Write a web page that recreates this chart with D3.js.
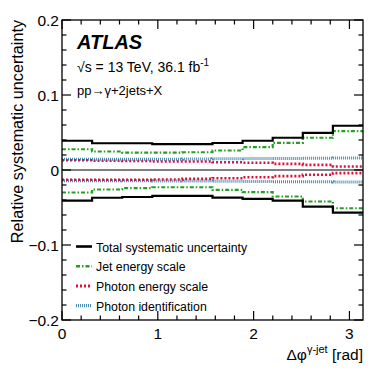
<!DOCTYPE html>
<html><head><meta charset="utf-8">
<script src="https://cdn.jsdelivr.net/npm/d3@7"></script>
<style>body{margin:0;background:#fff}svg{display:block}text{font-family:"Liberation Sans",Arial,sans-serif}</style>
</head><body><div id="c"></div>
<script>
const binEdges = [0, 0.1, 0.2, 0.3, 0.4, 0.5, 0.6, 0.7, 0.8, 0.9, 1.0]; // in units of pi
const totalUp   = [0.039, 0.0357, 0.0357, 0.0344, 0.0344, 0.036, 0.039, 0.043, 0.0496, 0.059];
const totalDown = [-0.0407, -0.037, -0.036, -0.0344, -0.0344, -0.0367, -0.0385, -0.0407, -0.0487, -0.0567];
const jesUp     = [0.0277, 0.0247, 0.0233, 0.0233, 0.0237, 0.026, 0.0304, 0.0362, 0.043, 0.0518];
const jesDown   = [-0.030, -0.026, -0.0242, -0.023, -0.023, -0.0264, -0.0296, -0.0353, -0.042, -0.051];
const pesUp     = [0.013, 0.0124, 0.012, 0.0113, 0.0113, 0.0104, 0.0096, 0.0082, 0.0069, 0.0047];
const pesDown   = [-0.013, -0.013, -0.013, -0.0127, -0.0118, -0.0109, -0.0096, -0.0082, -0.0064, -0.0042];
const pidUp     = [0.0145, 0.0145, 0.0145, 0.0145, 0.0147, 0.015, 0.0152, 0.0155, 0.0157, 0.016];
const pidDown   = [-0.0142, -0.0142, -0.0143, -0.0145, -0.0147, -0.015, -0.0152, -0.0155, -0.0157, -0.016];
const legendLabels = ["Total systematic uncertainty", "Jet energy scale", "Photon energy scale", "Photon identification"];
const xTicks = [0, 1, 2, 3];
const yTicks = [-0.2, -0.1, 0, 0.1, 0.2];

const W = 382, H = 382;
const m = {l: 62, r: 19, t: 20, b: 62};
const svg = d3.select("#c").append("svg").attr("width", W).attr("height", H);
const x = d3.scaleLinear().domain([0, Math.PI]).range([m.l, W - m.r]);
const y = d3.scaleLinear().domain([-0.2, 0.2]).range([H - m.b, m.t]);

const styles = [
  {color: "#000", w: 2.2, dash: null},
  {color: "#22a022", w: 2.2, dash: "4,2,1.5,2"},
  {color: "#e0103c", w: 2.6, dash: "2,2"},
  {color: "#4a8db5", w: 3, dash: "1,1"}
];

// zero line
svg.append("line").attr("x1", x(0)).attr("x2", x(Math.PI)).attr("y1", y(0)).attr("y2", y(0))
  .attr("stroke", "#555").attr("stroke-width", 1.6);

function stepPts(vals) {
  const pts = [];
  vals.forEach((v, i) => {
    pts.push([binEdges[i] * Math.PI, v]);
    pts.push([binEdges[i + 1] * Math.PI, v]);
  });
  return pts;
}
const line = d3.line().x(d => x(d[0])).y(d => y(d[1]));
const series = [[pidUp, pidDown, 3], [pesUp, pesDown, 2], [jesUp, jesDown, 1], [totalUp, totalDown, 0]];
series.forEach(([up, dn, si]) => {
  const s = styles[si];
  [up, dn].forEach(vals => {
    const p = svg.append("path").attr("d", line(stepPts(vals))).attr("fill", "none")
      .attr("stroke", s.color).attr("stroke-width", s.w);
    if (s.dash) p.attr("stroke-dasharray", s.dash);
  });
});

// frame
svg.append("rect").attr("x", x(0)).attr("y", y(0.2)).attr("width", x(Math.PI) - x(0)).attr("height", y(-0.2) - y(0.2))
  .attr("fill", "none").attr("stroke", "#000").attr("stroke-width", 1.3);

// ticks
const xMinor = d3.range(0, 3.15, 0.2);
xMinor.forEach(v => {
  const major = xTicks.some(t => Math.abs(t - v) < 1e-6);
  const len = major ? 9 : 4.5;
  svg.append("line").attr("x1", x(v)).attr("x2", x(v)).attr("y1", y(-0.2)).attr("y2", y(-0.2) - len).attr("stroke", "#000").attr("stroke-width", 1.2);
  svg.append("line").attr("x1", x(v)).attr("x2", x(v)).attr("y1", y(0.2)).attr("y2", y(0.2) + len).attr("stroke", "#000").attr("stroke-width", 1.2);
});
const yMinor = d3.range(-0.2, 0.2001, 0.02);
yMinor.forEach(v => {
  const major = yTicks.some(t => Math.abs(t - v) < 1e-6);
  const len = major ? 9 : 4.5;
  svg.append("line").attr("y1", y(v)).attr("y2", y(v)).attr("x1", x(0)).attr("x2", x(0) + len).attr("stroke", "#000").attr("stroke-width", 1.2);
  svg.append("line").attr("y1", y(v)).attr("y2", y(v)).attr("x1", x(Math.PI)).attr("x2", x(Math.PI) - len).attr("stroke", "#000").attr("stroke-width", 1.2);
});

// tick labels
xTicks.forEach(t => {
  svg.append("text").attr("x", x(t)).attr("y", y(-0.2) + 19).attr("text-anchor", "middle")
    .attr("font-size", 15.5).text(t);
});
yTicks.forEach(t => {
  svg.append("text").attr("x", x(0) - 3).attr("y", y(t) + 5.5).attr("text-anchor", "end")
    .attr("font-size", 15.5).text(t === 0 ? "0" : (t < 0 ? "\u2212" : "") + Math.abs(t).toFixed(1));
});

// axis titles
svg.append("text").attr("transform", `translate(23,${m.t}) rotate(-90)`).attr("text-anchor", "end")
  .attr("font-size", 16.2).text("Relative systematic uncertainty");
const xt = svg.append("text").attr("x", x(Math.PI)).attr("y", 360).attr("text-anchor", "end").attr("font-size", 15.5);
xt.append("tspan").text("\u0394\u03c6");
xt.append("tspan").attr("dy", -7).attr("font-size", 11).text("\u03b3-jet");
xt.append("tspan").attr("dy", 7).text(" [rad]");

// ATLAS labels
svg.append("text").attr("x", 77).attr("y", 49).attr("font-size", 20).attr("font-weight", "bold").attr("font-style", "italic").text("ATLAS");
const sq = svg.append("text").attr("x", 77).attr("y", 72).attr("font-size", 14);
sq.append("tspan").text("\u221As = 13 TeV, 36.1 fb");
sq.append("tspan").attr("dy", -6).attr("font-size", 10).text("-1");
svg.append("text").attr("x", 77).attr("y", 95).attr("font-size", 13).text("pp\u2192\u03b3+2jets+X");

// legend
legendLabels.forEach((lab, i) => {
  const yy = 247 + i * 19.7;
  const s = styles[i];
  const l = svg.append("line").attr("x1", 76).attr("x2", 92).attr("y1", yy - 0.5).attr("y2", yy - 0.5)
    .attr("stroke", s.color).attr("stroke-width", s.w + 0.4);
  if (s.dash) l.attr("stroke-dasharray", s.dash);
  svg.append("text").attr("x", 96).attr("y", yy + 4.5).attr("font-size", 12.3).text(lab);
});
</script></body></html>
